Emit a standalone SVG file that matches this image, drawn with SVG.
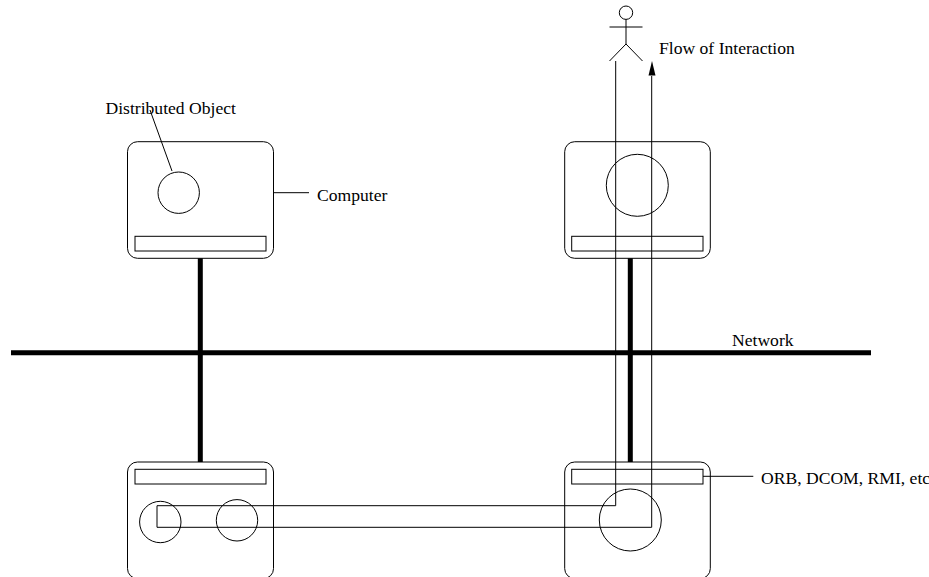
<svg xmlns="http://www.w3.org/2000/svg" width="929" height="577" viewBox="0 0 929 577">
<style>
.l{fill:none;stroke:#000;stroke-width:1}
.k{fill:none;stroke:#000;stroke-width:5}
text{font-family:"Liberation Serif","Times New Roman",serif;font-size:17.6px;fill:#000}
</style>
<rect width="929" height="577" fill="#fff"/>
<g id="connectors">
<path class="k" d="M11 352.7H871M200.3 258.3V462M630.3 258.3V462"/>
<path class="l" d="M150 110L172 171M273.5 192.7H309M703 476.3H753.3"/>
<path class="l" d="M615.7 61V505.7H157V527.3H651.7V76"/>
<path d="M652 61L648.5 75.6H655.5Z" fill="#000"/>
</g>
<g id="computer-top-left">
<rect class="l" x="127.5" y="141.7" width="146" height="116.6" rx="10"/>
<rect class="l" x="135" y="236.3" width="131" height="14.7"/>
<circle class="l" cx="178.7" cy="192.7" r="20.7"/>
</g>
<g id="computer-top-right">
<rect class="l" x="564.7" y="141.7" width="145.6" height="116.6" rx="10"/>
<rect class="l" x="571.7" y="236.3" width="131.3" height="14.7"/>
<circle class="l" cx="637.3" cy="185.3" r="31"/>
</g>
<g id="computer-bottom-left">
<rect class="l" x="127.5" y="462" width="146" height="116.6" rx="10"/>
<rect class="l" x="135" y="469.3" width="131" height="14.7"/>
<circle class="l" cx="160.3" cy="522" r="20.7"/>
<circle class="l" cx="237" cy="520.3" r="20.7"/>
</g>
<g id="computer-bottom-right">
<rect class="l" x="564.7" y="462" width="145.6" height="116.6" rx="10"/>
<rect class="l" x="571.7" y="469.3" width="131.3" height="14.7"/>
<circle class="l" cx="630.3" cy="520" r="31"/>
</g>
<g id="actor">
<circle class="l" cx="626" cy="12.7" r="6.7"/>
<path class="l" d="M626 19.4V44M609.5 27H642.5M609.5 61L626 44L642.5 61"/>
</g>
<g id="labels">
<text x="105.500" y="114">Distributed Object</text>
<text x="317" y="201">Computer</text>
<text x="659" y="53.500">Flow of Interaction</text>
<text x="732" y="345.500">Network</text>
<text x="761" y="483.500">ORB, DCOM, RMI, etc</text>
</g>
</svg>
